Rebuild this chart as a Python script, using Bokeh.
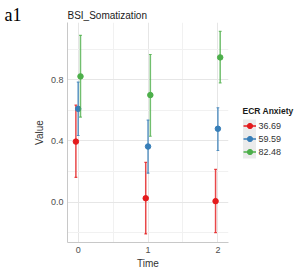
from bokeh.plotting import figure
from bokeh.layouts import row
from bokeh.models import FixedTicker, Legend, LegendItem, ColumnDataSource, Range1d
from bokeh.embed import file_html
from bokeh.resources import INLINE

# ---- data ----
times = [0, 1, 2]
groups = ["36.69", "59.59", "82.48"]
mean_3669 = [0.396, 0.026, 0.007]
lower_3669 = [0.163, -0.207, -0.198]
upper_3669 = [0.634, 0.260, 0.214]
mean_5959 = [0.610, 0.364, 0.480]
lower_5959 = [0.436, 0.190, 0.338]
upper_5959 = [0.784, 0.536, 0.617]
mean_8248 = [0.822, 0.700, 0.946]
lower_8248 = [0.556, 0.431, 0.780]
upper_8248 = [1.090, 0.965, 1.116]
x_ticks = [0, 1, 2]
y_ticks = [0.0, 0.4, 0.8]
y_tick_labels = ["0.0", "0.4", "0.8"]

# ---- style ----
colors = ["#E41A1C", "#377EB8", "#4DAF4A"]
dodge = [-0.033, 0.0, 0.033]
cap_half = 0.02
FONT = "Liberation Sans"
H = 277
LEG_X, LEG_Y, KEY_W, KEY_H = 9.5, 84, 13, 13   # legend layout (pixels)

series = [(mean_3669, lower_3669, upper_3669),
          (mean_5959, lower_5959, upper_5959),
          (mean_8248, lower_8248, upper_8248)]

# ---- panel tag "a1" ----
pa = figure(width=30, height=H, output_backend="svg", toolbar_location=None, title="a1",
            x_range=Range1d(0, 1), y_range=Range1d(0, 1),
            x_axis_type=None, y_axis_type=None, min_border=0)
pa.outline_line_color = None
pa.title.text_font = "Liberation Serif"
pa.title.text_font_size = "18px"
pa.title.text_font_style = "normal"
pa.title.text_color = "black"
pa.title.standoff = -4
pa.title.offset = 4

# ---- main plot ----
p = figure(width=203, height=H, output_backend="svg", toolbar_location=None,
           x_range=Range1d(-0.153, 2.152), y_range=Range1d(-0.263, 1.174),
           min_border_left=37, min_border_right=5, min_border_top=22, min_border_bottom=35)
p.outline_line_color = None
p.background_fill_color = "white"

p.title.text = "BSI_Somatization"
p.title.text_font = FONT
p.title.text_font_size = "10px"
p.title.text_font_style = "normal"
p.title.text_color = "#1a1a1a"
p.title.standoff = 3
p.title.offset = 0

p.xaxis.ticker = FixedTicker(ticks=x_ticks, minor_ticks=[0.5, 1.5])
p.yaxis.ticker = FixedTicker(ticks=y_ticks, minor_ticks=[-0.2, 0.2, 0.6, 1.0])
p.yaxis.major_label_overrides = {t: l for t, l in zip(y_ticks, y_tick_labels)}
for ax in (p.xaxis, p.yaxis):
    ax.major_tick_line_color = None
    ax.minor_tick_line_color = None
    ax.major_tick_out = 0
    ax.major_tick_in = 0
    ax.minor_tick_out = 0
    ax.minor_tick_in = 0
    ax.axis_line_color = "#c8c8c8"
    ax.axis_line_width = 1
    ax.major_label_text_font = FONT
    ax.major_label_text_font_size = "9px"
    ax.major_label_text_color = "#4d4d4d"
    ax.axis_label_text_font = FONT
    ax.axis_label_text_font_size = "10px"
    ax.axis_label_text_font_style = "normal"
    ax.axis_label_text_color = "#333333"
    ax.major_label_standoff = 4
p.xaxis.axis_label = "Time"
p.yaxis.axis_label = "Value"
p.xaxis.axis_label_standoff = 2
p.yaxis.axis_label_standoff = 3

p.xgrid.grid_line_color = "#e6e6e6"
p.ygrid.grid_line_color = "#e6e6e6"
p.xgrid.minor_grid_line_color = "#f1f1f1"
p.ygrid.minor_grid_line_color = "#f1f1f1"

for (m, lo, up), col, d in zip(series, colors, dodge):
    xs = [t + d for t in times]
    src = ColumnDataSource(dict(x=xs, m=m, lo=lo, up=up,
                                xl=[x - cap_half for x in xs], xr=[x + cap_half for x in xs]))
    p.segment(x0="x", x1="x", y0="lo", y1="up", source=src, line_color=col, line_width=1.5, line_alpha=0.8)
    p.segment(x0="xl", x1="xr", y0="up", y1="up", source=src, line_color=col, line_width=1.2, line_alpha=0.8)
    p.segment(x0="xl", x1="xr", y0="lo", y1="lo", source=src, line_color=col, line_width=1.2, line_alpha=0.8)
    p.scatter(x="x", y="m", source=src, size=5.5, fill_color=col, line_color=col)

# ---- legend panel (frame is aligned with the main frame: 220 px high) ----
pl = figure(width=61, height=H, output_backend="svg", toolbar_location=None, title=None,
            x_range=Range1d(0, 61), y_range=Range1d(0, 220),
            x_axis_type=None, y_axis_type=None, min_border=0)
pl.outline_line_color = None
# grey key backgrounds, like ggplot's legend.key
pl.quad(left=[LEG_X], right=[LEG_X + KEY_W], bottom=[LEG_Y],
        top=[LEG_Y + KEY_H * len(groups)], fill_color="#ebebeb", line_color=None)
items = []
for (m, lo, up), col, g in zip(series, colors, groups):
    src = ColumnDataSource(dict(x=times, m=m, lo=lo, up=up))
    seg = pl.segment(x0="x", x1="x", y0="lo", y1="up", source=src,
                     line_color=col, line_width=1.5, visible=False)
    pt = pl.scatter(x="x", y="m", source=src, size=5.5, fill_color=col, line_color=col, visible=False)
    items.append(LegendItem(label=g, renderers=[seg, pt], index=0))

legend = Legend(items=items, title="ECR Anxiety", location=(LEG_X, LEG_Y),
                title_text_font=FONT, title_text_font_style="bold", title_text_font_size="8.5px",
                title_text_color="#1a1a1a", title_standoff=3,
                label_text_font=FONT, label_text_font_size="9px", label_text_color="#333333",
                glyph_width=KEY_W, glyph_height=KEY_H, spacing=0, padding=0, margin=0,
                label_standoff=3, label_height=KEY_H,
                inactive_fill_alpha=0, click_policy="none",
                border_line_color=None, background_fill_alpha=0)
pl.add_layout(legend, "center")

layout = row(pa, p, pl)
open("out.html", "w").write(file_html(layout, INLINE))
